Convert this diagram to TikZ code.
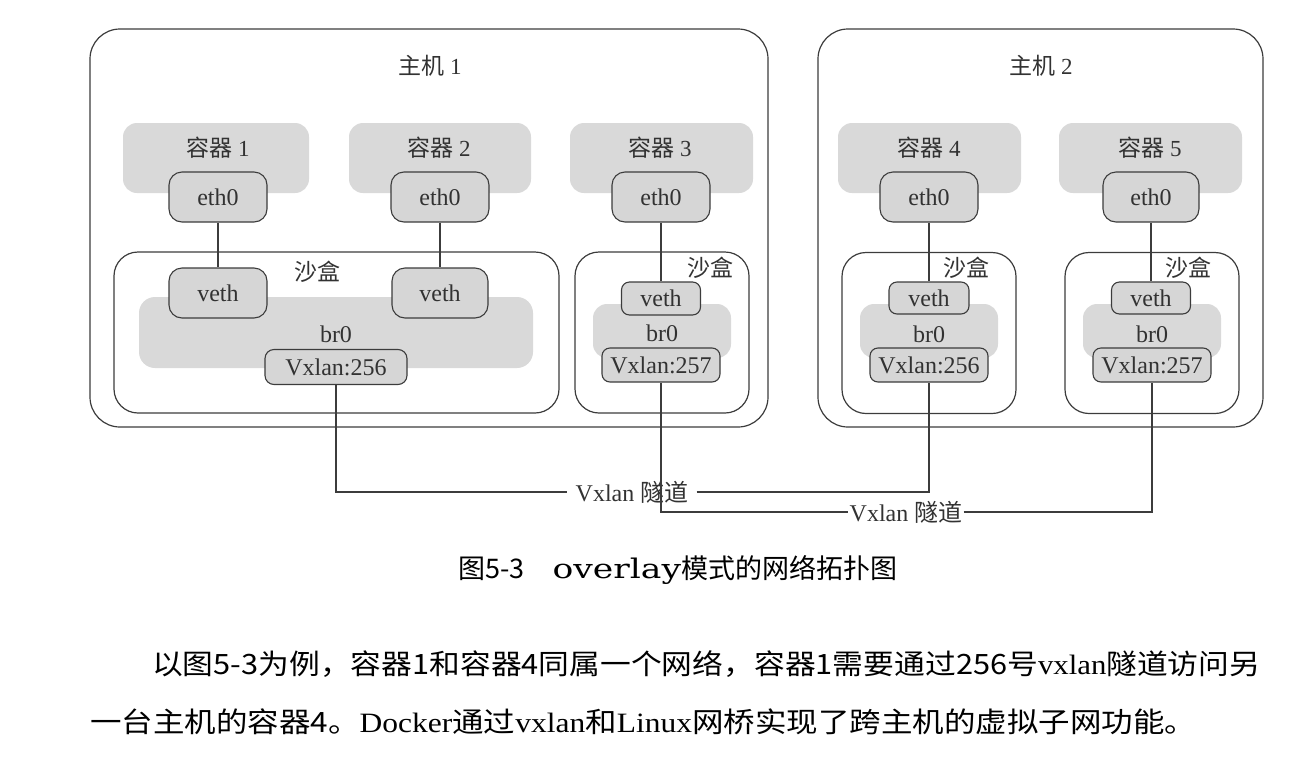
\documentclass[tikz,border=0pt]{standalone}
\usepackage{fontspec}
\setmainfont{Liberation Serif}
\newfontfamily\cjk{Noto Sans CJK SC}
\newfontfamily\wideserif{DejaVu Serif}
\definecolor{areagray}{RGB}{217,217,217}
\definecolor{portgray}{RGB}{214,214,214}
\definecolor{edgegray}{RGB}{60,60,60}
\definecolor{txtgray}{RGB}{50,50,50}
\begin{document}
\begin{tikzpicture}[x=1pt,y=-1pt,
  hostbox/.style={draw=edgegray, line width=1.2pt, rounded corners=30pt, inner sep=0pt, minimum height=398pt},
  area/.style={fill=areagray, rounded corners=14pt, inner sep=0pt},
  sandbox/.style={draw=edgegray, line width=1.2pt, rounded corners=24pt, inner sep=0pt, minimum height=161pt},
  port/.style={draw=edgegray, fill=portgray, line width=1.1pt, rounded corners=10pt, inner sep=0pt, text=txtgray, font=\fontsize{24}{24}\selectfont},
  lbl/.style={text=txtgray, font=\fontsize{23}{23}\selectfont, inner sep=0pt},
  conn/.style={draw=edgegray, line width=1.1pt},
  tun/.style={text=txtgray, font=\fontsize{24}{24}\selectfont},
  body/.style={text=black, font=\fontsize{28}{28}\selectfont, inner sep=0pt, anchor=west}
]
\useasboundingbox (0,0) rectangle (1310,761);
% hosts
\node[hostbox, minimum width=678pt] (h1) at (429,228) {};
\node[hostbox, minimum width=445pt] (h2) at (1040.5,228) {};
\node[lbl] (h1l) at (430,66) {{\cjk 主机} 1};
\node[lbl] (h2l) at (1041,66) {{\cjk 主机} 2};
% containers
\node[area, minimum width=186pt, minimum height=70pt] (c1) at (216,158) {};
\node[area, minimum width=182pt, minimum height=70pt] (c2) at (440,158) {};
\node[area, minimum width=183pt, minimum height=70pt] (c3) at (661.5,158) {};
\node[area, minimum width=183pt, minimum height=70pt] (c4) at (929.5,158) {};
\node[area, minimum width=183pt, minimum height=70pt] (c5) at (1150.5,158) {};
\node[lbl] (c1l) at (218,148) {{\cjk 容器} 1};
\node[lbl] (c2l) at (439,148) {{\cjk 容器} 2};
\node[lbl] (c3l) at (660,148) {{\cjk 容器} 3};
\node[lbl] (c4l) at (929,148) {{\cjk 容器} 4};
\node[lbl] (c5l) at (1150,148) {{\cjk 容器} 5};
% sandboxes
\node[sandbox, minimum width=445pt] (sb1) at (336.5,332.5) {};
\node[sandbox, minimum width=174pt] (sb2) at (662,332.5) {};
\node[sandbox, minimum width=174pt] (sb3) at (929,333) {};
\node[sandbox, minimum width=174pt] (sb4) at (1152,333) {};
\node[lbl] (sb1l) at (317,272) {\cjk 沙盒};
\node[lbl] (sb2l) at (710,268) {\cjk 沙盒};
\node[lbl] (sb3l) at (966,268) {\cjk 沙盒};
\node[lbl] (sb4l) at (1188,268) {\cjk 沙盒};
% bridges
\node[area, rounded corners=16pt, minimum width=394pt, minimum height=71pt] (b1) at (336,332.5) {};
\node[area, minimum width=138pt, minimum height=54pt] (b2) at (662,331) {};
\node[area, minimum width=138pt, minimum height=54pt] (b3) at (929,331) {};
\node[area, minimum width=138pt, minimum height=54pt] (b4) at (1152,331) {};
\node[lbl, font=\fontsize{24}{24}\selectfont] (b1l) at (336,334) {br0};
\node[lbl, font=\fontsize{24}{24}\selectfont] (b2l) at (662,333) {br0};
\node[lbl, font=\fontsize{24}{24}\selectfont] (b3l) at (929,334) {br0};
\node[lbl, font=\fontsize{24}{24}\selectfont] (b4l) at (1152,334) {br0};
% eth0
\node[port, minimum width=98pt, minimum height=50pt, rounded corners=13pt] (e1) at (218,197) {eth0};
\node[port, minimum width=98pt, minimum height=50pt, rounded corners=13pt] (e2) at (440,197) {eth0};
\node[port, minimum width=98pt, minimum height=50pt, rounded corners=13pt] (e3) at (661,197) {eth0};
\node[port, minimum width=98pt, minimum height=50pt, rounded corners=13pt] (e4) at (929,197) {eth0};
\node[port, minimum width=96pt, minimum height=50pt, rounded corners=13pt] (e5) at (1151,197) {eth0};
% veth
\node[port, minimum width=98pt, minimum height=50pt, rounded corners=13pt] (v1) at (218,293) {veth};
\node[port, minimum width=96pt, minimum height=50pt, rounded corners=13pt] (v2) at (440,293) {veth};
\node[port, minimum width=79pt, minimum height=33pt, rounded corners=8pt] (v3) at (661,298.5) {veth};
\node[port, minimum width=80pt, minimum height=32pt, rounded corners=8pt] (v4) at (929,298) {veth};
\node[port, minimum width=79pt, minimum height=32pt, rounded corners=8pt] (v5) at (1151,298) {veth};
% vxlan
\node[port, minimum width=142pt, minimum height=35pt, rounded corners=9pt] (x1) at (336,367) {Vxlan:256};
\node[port, minimum width=118pt, minimum height=34pt, rounded corners=8pt] (x2) at (661,365) {Vxlan:257};
\node[port, minimum width=118pt, minimum height=34pt, rounded corners=8pt] (x3) at (929,365) {Vxlan:256};
\node[port, minimum width=118pt, minimum height=34pt, rounded corners=8pt] (x4) at (1152,365) {Vxlan:257};
% eth0 - veth links
\draw[conn] (e1.south) -- (v1.north);
\draw[conn] (e2.south) -- (v2.north);
\draw[conn] (e3.south) -- (v3.north);
\draw[conn] (e4.south) -- (v4.north);
\draw[conn] (e5.south) -- (v5.north);
% tunnels
\node[tun, inner sep=8pt] (t1) at (632,492) {Vxlan {\cjk 隧道}};
\node[tun, inner sep=1pt] (t2) at (906,512) {Vxlan {\cjk 隧道}};
\draw[conn] (x1.south) |- (t1.west);
\draw[conn] (t1.east) -| (x3.south);
\draw[conn] (x2.south) |- (t2.west);
\draw[conn] (t2.east) -| (x4.south);
% caption and body text
\node[text=black, font=\fontsize{27}{27}\selectfont, inner sep=0pt, anchor=west] (cap) at (458,570) {{\cjk 图5-3}\hspace{28pt}\scalebox{1.28}[1]{\wideserif overlay}{\cjk 模式的网络拓扑图}};
\node[body] (p1) at (152,664) {\scalebox{1.099}[1]{{\cjk 以图5-3为例，容器1和容器4同属一个网络，容器1需要通过256号}vxlan{\cjk 隧道访问另}}};
\node[body] (p2) at (90,722) {\scalebox{1.125}[1]{{\cjk 一台主机的容器4。}Docker{\cjk 通过}vxlan{\cjk 和}Linux{\cjk 网桥实现了跨主机的虚拟子网功能。}}};
\end{tikzpicture}
\end{document}
